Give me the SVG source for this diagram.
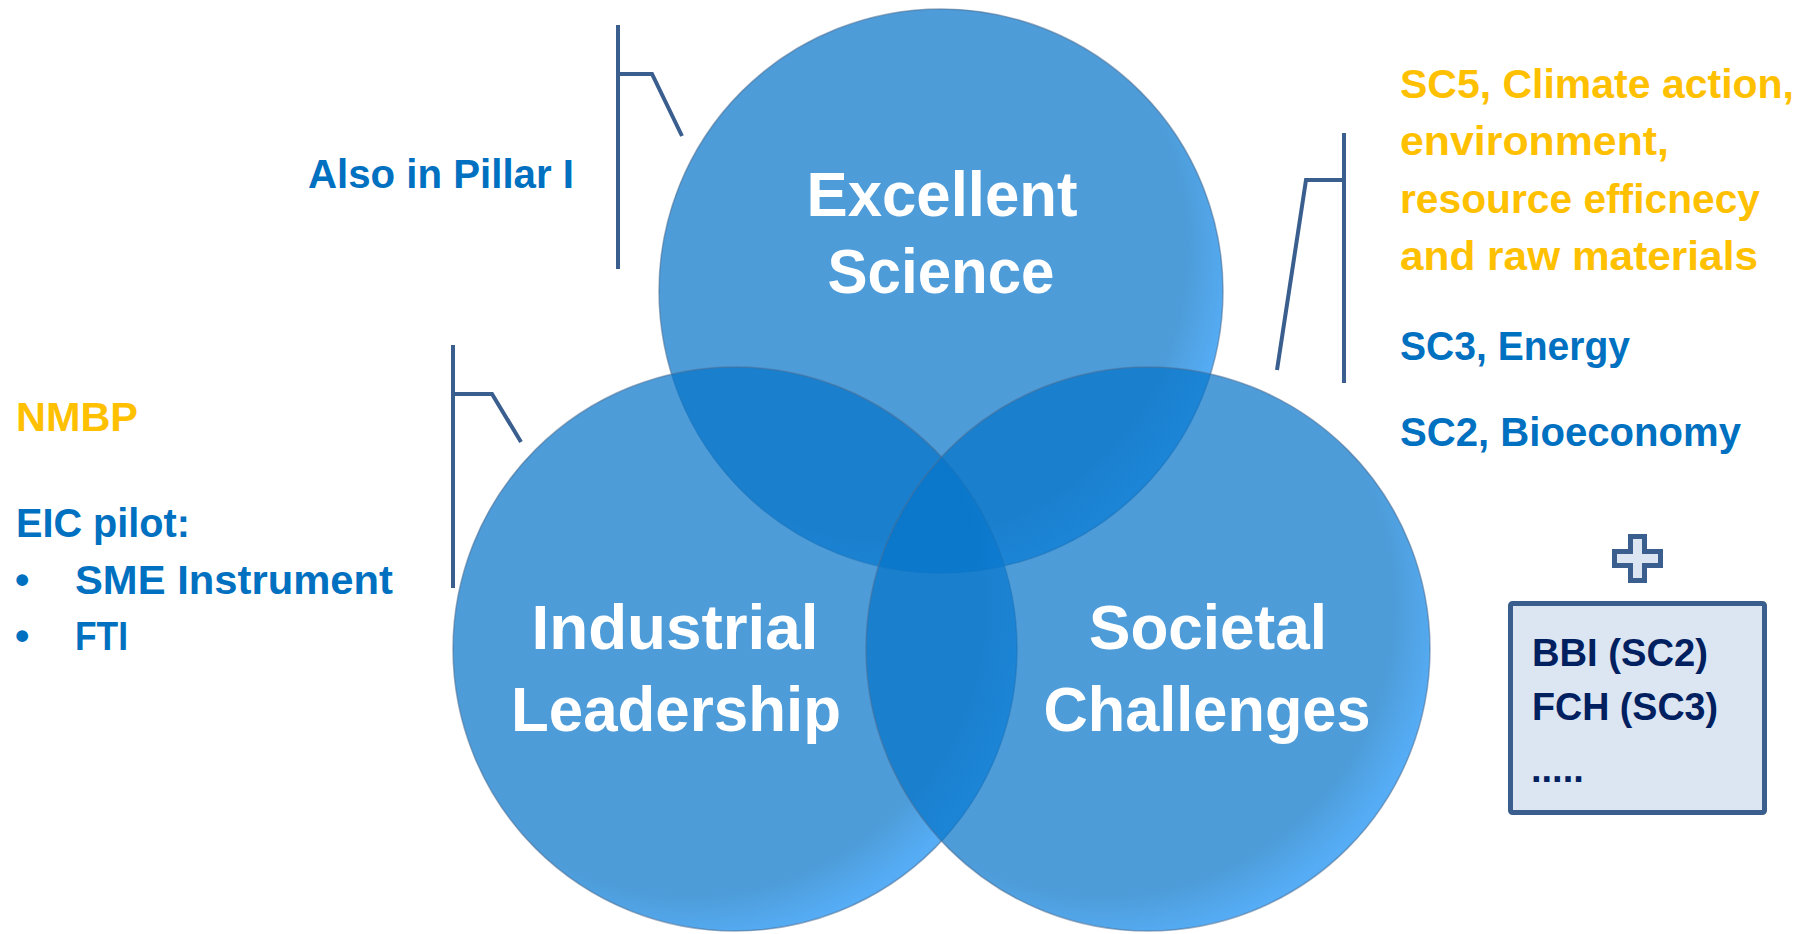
<svg xmlns="http://www.w3.org/2000/svg" width="1810" height="934" viewBox="0 0 1810 934">
<style>
  .side { font-family: "Liberation Sans", Arial, sans-serif; font-weight: bold; font-size: 41px; }
  .blue { fill: #0070C0; }
  .gold { fill: #FFC000; }
  .navy { fill: #002060; font-family: "Liberation Sans", Arial, sans-serif; font-weight: bold; font-size: 38px; }
  .lbl { font-family: "Liberation Sans", Arial, sans-serif; font-weight: bold; font-size: 63px; fill: #FFFFFF; text-anchor: middle; }
  .bracket { fill: none; stroke: #3A5F8E; stroke-width: 4; stroke-linejoin: miter; }
  .circ { fill: url(#cg); stroke: #4A6E94; stroke-opacity: 0.55; stroke-width: 1.5; }
  .shape { fill: #DCE6F2; stroke: #3A5F8E; stroke-width: 5; }
</style>
<defs>
  <radialGradient id="cg" cx="0.42" cy="0.42" r="0.6" gradientUnits="objectBoundingBox">
    <stop offset="0" stop-color="#0574C9" stop-opacity="0.71"/>
    <stop offset="0.86" stop-color="#0574C9" stop-opacity="0.71"/>
    <stop offset="1" stop-color="#1A90F2" stop-opacity="0.74"/>
  </radialGradient>
</defs>
<rect x="0" y="0" width="1810" height="934" fill="#FFFFFF"/>

<g id="node-excellent-science">
  <circle class="circ" cx="941" cy="291" r="282"/>
</g>
<g id="node-industrial-leadership">
  <circle class="circ" cx="735" cy="649" r="282"/>
</g>
<g id="node-societal-challenges">
  <circle class="circ" cx="1148" cy="649" r="282"/>
</g>

<g id="labels">
  <text class="lbl" x="942" y="216" textLength="271" lengthAdjust="spacingAndGlyphs">Excellent</text>
  <text class="lbl" x="941" y="293" textLength="227" lengthAdjust="spacingAndGlyphs">Science</text>
  <text class="lbl" x="675" y="649" textLength="287" lengthAdjust="spacingAndGlyphs">Industrial</text>
  <text class="lbl" x="676" y="731" textLength="330" lengthAdjust="spacingAndGlyphs">Leadership</text>
  <text class="lbl" x="1208" y="649" textLength="238" lengthAdjust="spacingAndGlyphs">Societal</text>
  <text class="lbl" x="1207" y="731" textLength="327" lengthAdjust="spacingAndGlyphs">Challenges</text>
</g>

<g id="connectors">
  <path class="bracket" d="M618,25 V269 M618,74 H652 L682,136"/>
  <path class="bracket" d="M453,345 V588 M453,394 H492 L521,442"/>
  <path class="bracket" d="M1344,133 V383 M1344,180 H1306 L1277,370"/>
</g>

<g id="node-pillar-note">
  <text class="side blue" x="308" y="188" textLength="266" lengthAdjust="spacingAndGlyphs">Also in Pillar I</text>
</g>

<g id="node-left-list">
  <text class="side gold" x="16" y="431" textLength="122" lengthAdjust="spacingAndGlyphs">NMBP</text>
  <text class="side blue" x="16" y="537" textLength="174" lengthAdjust="spacingAndGlyphs">EIC pilot:</text>
  <text class="side blue" x="15" y="594">•</text>
  <text class="side blue" x="75" y="594" textLength="318" lengthAdjust="spacingAndGlyphs">SME Instrument</text>
  <text class="side blue" x="15" y="650">•</text>
  <text class="side blue" x="75" y="650" textLength="53" lengthAdjust="spacingAndGlyphs">FTI</text>
</g>

<g id="node-right-list">
  <text class="side gold" x="1400" y="98" textLength="394" lengthAdjust="spacingAndGlyphs">SC5, Climate action,</text>
  <text class="side gold" x="1400" y="155" textLength="269" lengthAdjust="spacingAndGlyphs">environment,</text>
  <text class="side gold" x="1400" y="213" textLength="360" lengthAdjust="spacingAndGlyphs">resource efficnecy</text>
  <text class="side gold" x="1400" y="270" textLength="358" lengthAdjust="spacingAndGlyphs">and raw materials</text>
  <text class="side blue" x="1400" y="360" textLength="230" lengthAdjust="spacingAndGlyphs">SC3, Energy</text>
  <text class="side blue" x="1400" y="446" textLength="341" lengthAdjust="spacingAndGlyphs">SC2, Bioeconomy</text>
</g>

<g id="node-plus">
  <path class="shape" d="M1630.5,536.5 H1644.5 V551.5 H1660.5 V565.5 H1644.5 V580.5 H1630.5 V565.5 H1614.5 V551.5 H1630.5 Z"/>
</g>

<g id="node-jti-box">
  <rect class="shape" x="1510.5" y="603.5" width="254" height="209" rx="2"/>
  <text class="navy" x="1532" y="666" textLength="176" lengthAdjust="spacingAndGlyphs">BBI (SC2)</text>
  <text class="navy" x="1532" y="720" textLength="186" lengthAdjust="spacingAndGlyphs">FCH (SC3)</text>
  <text class="navy" x="1531" y="782">.....</text>
</g>
</svg>
